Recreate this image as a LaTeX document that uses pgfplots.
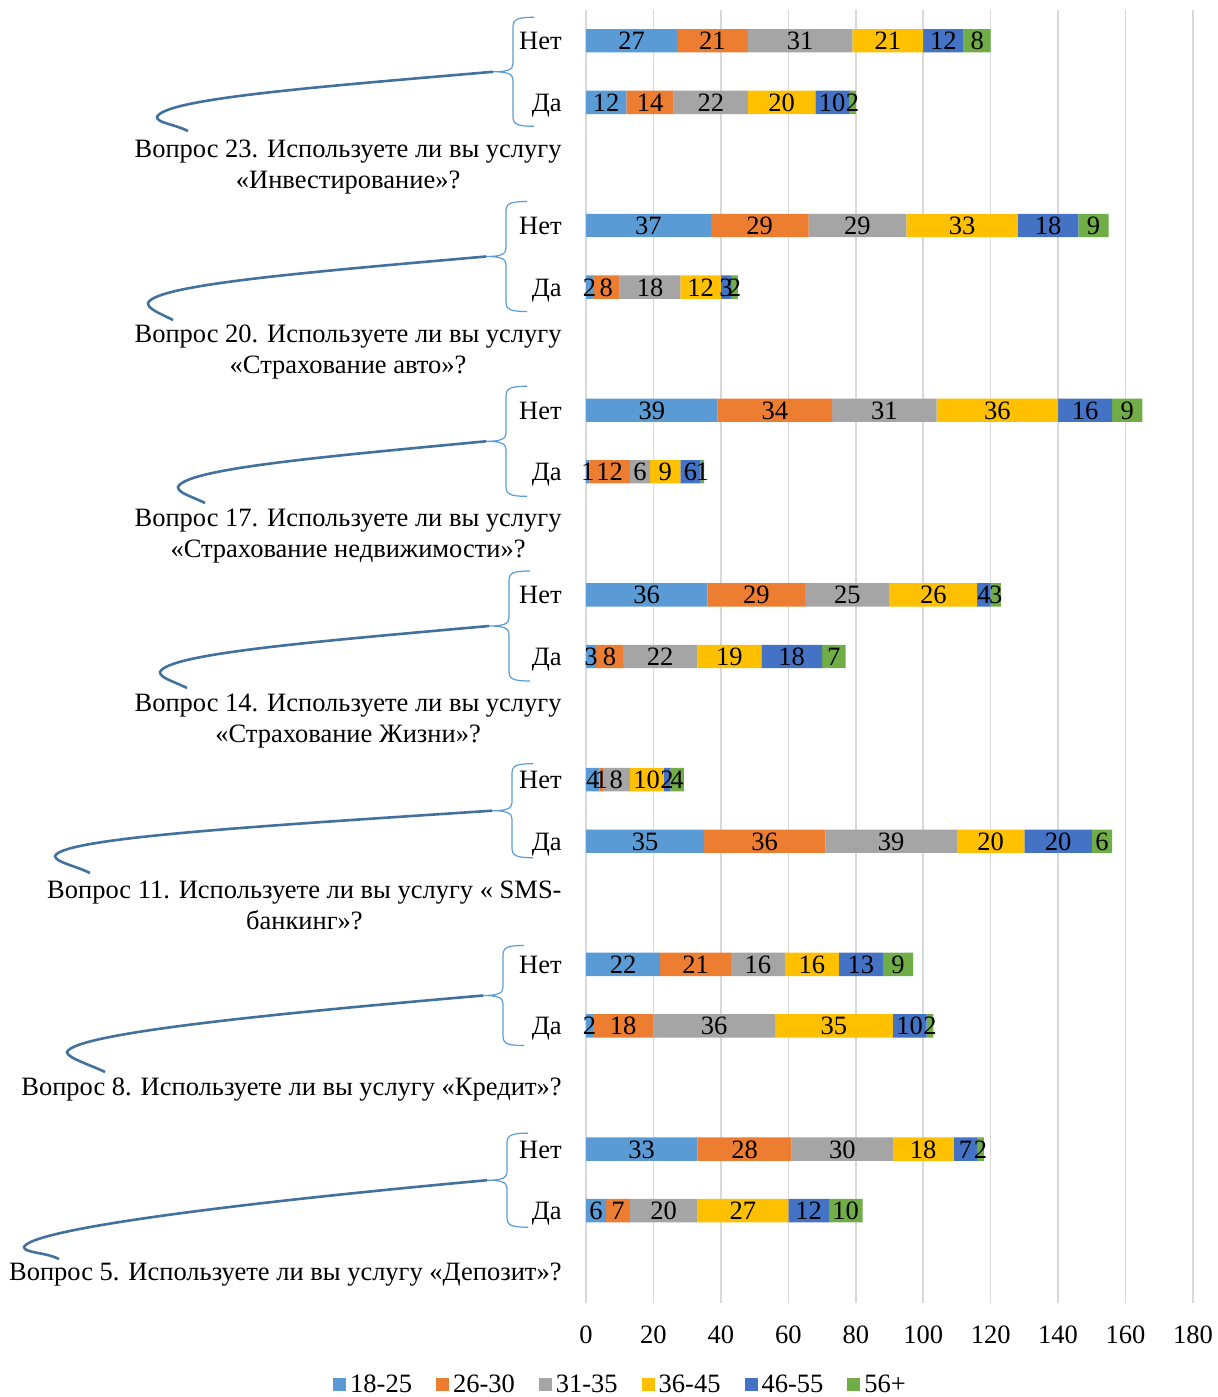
\documentclass[border=0pt]{standalone}
\usepackage{pgfplots}
\pgfplotsset{compat=1.18}
\usepackage{pgfplotstable}
\usepackage{fontspec}
\setmainfont{Liberation Serif}
\definecolor{c1}{HTML}{5B9BD5}
\definecolor{c2}{HTML}{ED7D31}
\definecolor{c3}{HTML}{A5A5A5}
\definecolor{c4}{HTML}{FFC000}
\definecolor{c5}{HTML}{4472C4}
\definecolor{c6}{HTML}{70AD47}
\definecolor{gridc}{HTML}{D9D9D9}
\definecolor{bracec}{HTML}{5B9BD5}
\definecolor{swc}{HTML}{41719C}
\newcommand{\fnt}{\fontsize{13.25}{15.5}\selectfont}

\pgfplotstableread{
k  a  b  c  d  e  f
19 27 21 31 21 12 8
18 12 14 22 20 10 2
16 37 29 29 33 18 9
15 2  8  18 12 3  2
13 39 34 31 36 16 9
12 1  12 6  9  6  1
10 36 29 25 26 4  3
9  3  8  22 19 18 7
7  4  1  8  10 2  4
6  35 36 39 20 20 6
4  22 21 16 16 13 9
3  2  18 36 35 10 2
1  33 28 30 18 7  2
0  6  7  20 27 12 10
}\datatable

% brace: spine x, mid y, half height (pixel units, y down)
\newcommand{\qbrace}[3]{%
 \draw[bracec, line width=0.6pt] ({#1+21},{#2-#3}) .. controls ({#1+4},{#2-#3}) and ({#1},{#2-#3+2}) .. ({#1},{#2-#3+10}) -- ({#1},{#2-8}) .. controls ({#1},{#2-2}) and ({#1-6},{#2}) .. ({#1-20},{#2}) .. controls ({#1-6},{#2}) and ({#1},{#2+2}) .. ({#1},{#2+8}) -- ({#1},{#2+#3-10}) .. controls ({#1},{#2+#3-2}) and ({#1+4},{#2+#3}) .. ({#1+21},{#2+#3});
}
% swoosh: start S, leftmost L, end E
\newcommand{\swoosh}[6]{%
 \draw[swc, line width=1.3pt] ({#1},{#2}) .. controls ({#1-0.55*(#1-#3)},{#2+0.35*(#4-#2)}) and ({#3+8},{#4-18}) .. ({#3},{#4}) .. controls ({#3},{#4+6}) and ({#5-14},{#6-7}) .. ({#5},{#6});
}

\begin{document}
\begin{tikzpicture}
\useasboundingbox (0,0) rectangle (608.5pt,-698.5pt);
\begin{axis}[
  at={(293pt,-651.5pt)}, anchor=south west,
  scale only axis, width=303.5pt, height=646.5pt,
  xbar stacked, bar width=11.7pt,
  xmin=0, xmax=180, ymin=-1.5, ymax=19.5,
  xtick={0,20,...,180},
  ytick={0,1,3,4,6,7,9,10,12,13,15,16,18,19},
  yticklabels={Да,Нет,Да,Нет,Да,Нет,Да,Нет,Да,Нет,Да,Нет,Да,Нет},
  xmajorgrids, grid style={gridc, line width=0.75pt},
  axis line style={draw=none},
  major tick length=0pt,
  tick style={draw=none},
  /pgf/number format/assume math mode=true,
  ticklabel style={font=\fnt},
  yticklabel style={anchor=east, inner sep=0pt, xshift=-12pt, text height=9pt, text depth=0pt},
  xticklabel style={anchor=center, inner sep=0pt, yshift=-15.5pt, text height=9pt, text depth=0pt},
  point meta=explicit,
  nodes near coords,
  every node near coord/.append style={font=\fnt, text=black, anchor=center, inner sep=0pt, text height=9pt, text depth=0pt},
  legend columns=6,
  legend style={at={(0.0585,-0.0634)}, anchor=center, draw=none, fill=none, font=\fnt,
     /tikz/every even column/.append style={column sep=10pt}, inner sep=0pt, row sep=0pt},
  seg/.style={fill=#1, draw=none, legend image code/.code={\fill[fill=#1] (0pt,-3.25pt) rectangle (6.5pt,3.25pt);}},
]
\addplot[seg=c1] table[x=a, y=k, meta=a] {\datatable};
\addplot[seg=c2] table[x=b, y=k, meta=b] {\datatable};
\addplot[seg=c3] table[x=c, y=k, meta=c] {\datatable};
\addplot[seg=c4] table[x=d, y=k, meta=d] {\datatable};
\addplot[seg=c5] table[x=e, y=k, meta=e] {\datatable};
\addplot[seg=c6] table[x=f, y=k, meta=f] {\datatable};
\legend{18-25,26-30,31-35,36-45,46-55,56+}
\end{axis}
\begin{scope}[x=0.5pt, y=-0.5pt]
\qbrace{513}{71.8}{54.5}
\qbrace{506}{256.5}{55}
\qbrace{506}{441.3}{55}
\qbrace{509}{626}{55}
\qbrace{512}{810.7}{47}
\qbrace{503}{995.5}{50}
\qbrace{507}{1180.2}{47}
\swoosh{493}{71.8}{157}{117}{188}{131}
\swoosh{486}{256.5}{148}{303}{173}{320}
\swoosh{486}{441.3}{178}{487}{205}{503}
\swoosh{489}{626}{160}{672}{187}{688}
\swoosh{492}{810.7}{55}{856}{90}{873}
\swoosh{483}{995.5}{67}{1052}{105}{1072}
\swoosh{487}{1180.2}{24}{1247}{59}{1259}
\begin{scope}[every node/.style={font=\fnt, align=center, anchor=east, inner sep=0pt}]
\node at (562,167.5) {Вопрос 23. Используете ли вы услугу\\«Инвестирование»?};
\node at (562,352.5) {Вопрос 20. Используете ли вы услугу\\«Страхование авто»?};
\node at (562,536.5) {Вопрос 17. Используете ли вы услугу\\«Страхование недвижимости»?};
\node at (562,721.5) {Вопрос 14. Используете ли вы услугу\\«Страхование Жизни»?};
\node at (562,905.5) {Вопрос 11. Используете ли вы услугу « SMS-\\банкинг»?};
\node at (562,1090) {Вопрос 8. Используете ли вы услугу «Кредит»?};
\node at (562,1275) {Вопрос 5. Используете ли вы услугу «Депозит»?};
\end{scope}
\end{scope}
\end{tikzpicture}
\end{document}
